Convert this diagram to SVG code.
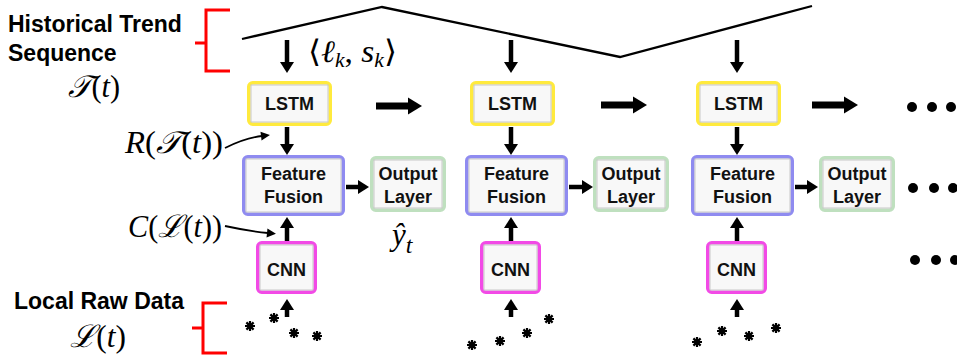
<svg xmlns="http://www.w3.org/2000/svg" width="957" height="360" viewBox="0 0 957 360">
<defs>
<style>
.lbl{font-family:"Liberation Sans",Arial,sans-serif;font-weight:bold;font-size:23px;fill:#000}
.bt{font-family:"Liberation Sans",Arial,sans-serif;font-weight:bold;font-size:18px;fill:#111;text-anchor:middle}
.m{font-family:"Liberation Serif","DejaVu Serif",serif;font-style:italic;font-size:31px;fill:#000}
.r{font-style:normal}
.box{fill:#f8f8f8;stroke-width:3.5}
.inner{fill:none;stroke:#c8c8c8;stroke-width:1}
.lstm{stroke:#ffea3d}
.ff{stroke:#8f8bf0}
.out{stroke:#bfe0bf}
.cnn{stroke:#f24ae6}
.ar{stroke:#000;stroke-width:4.5;fill:none;marker-end:url(#ah)}
.arb{stroke:#000;stroke-width:7;fill:none;marker-end:url(#ahb)}
.arc{stroke:#000;stroke-width:1.8;fill:none;marker-end:url(#ahs)}
.br{stroke:#ff0000;stroke-width:3;fill:none}
.dot{fill:#000}
</style>
<marker id="ah" markerUnits="userSpaceOnUse" markerWidth="12" markerHeight="14" refX="0" refY="7" orient="auto" overflow="visible">
<path d="M0,0 L11,7 L0,14 z" fill="#000"/>
</marker>
<marker id="ahb" markerUnits="userSpaceOnUse" markerWidth="15" markerHeight="17" refX="0" refY="8.5" orient="auto" overflow="visible">
<path d="M0,0 L14,8.5 L0,17 z" fill="#000"/>
</marker>
<marker id="ahs" markerUnits="userSpaceOnUse" markerWidth="10" markerHeight="9" refX="1" refY="4.5" orient="auto" overflow="visible">
<path d="M0,0 L9,4.5 L0,9 z" fill="#000"/>
</marker>
<g id="star">
<path d="M-5,0H5M0,-5V5M-3.6,-3.6L3.6,3.6M-3.6,3.6L3.6,-3.6" stroke="#000" stroke-width="2.2"/>
<circle r="2.6" fill="#000"/>
</g>
</defs>
<rect width="957" height="360" fill="#fff"/>

<!-- trend line and brackets -->
<g id="trend">
<polyline points="242,39 382,7 620,57 812,6" fill="none" stroke="#000" stroke-width="2.3"/>
<path class="br" d="M230,10H206V71H230M195,43H206"/>
<path class="br" d="M227,303H203V353H227M192,328H203"/>
</g>

<!-- labels -->
<g id="labels">
<text class="lbl" x="8" y="32">Historical Trend</text>
<text class="lbl" x="8" y="61">Sequence</text>
<text class="lbl" x="14" y="309">Local Raw Data</text>
<text class="m" x="68" y="97" textLength="52" lengthAdjust="spacingAndGlyphs">𝒯<tspan class="r">(</tspan>t<tspan class="r">)</tspan></text>
<text class="m" x="125" y="153" textLength="98" lengthAdjust="spacingAndGlyphs">R<tspan class="r">(</tspan>𝒯<tspan class="r">(</tspan>t<tspan class="r">))</tspan></text>
<text class="m" x="128" y="237" textLength="94" lengthAdjust="spacingAndGlyphs">C<tspan class="r">(</tspan>ℒ<tspan class="r">(</tspan>t<tspan class="r">))</tspan></text>
<text class="m" x="70" y="347" textLength="56" lengthAdjust="spacingAndGlyphs">ℒ<tspan class="r">(</tspan>t<tspan class="r">)</tspan></text>
<text class="m" x="308" y="62" font-size="29" textLength="89" lengthAdjust="spacingAndGlyphs"><tspan class="r">⟨</tspan>ℓ<tspan font-size="20" dy="5">k</tspan><tspan class="r" dy="-5">, </tspan>s<tspan font-size="20" dy="5">k</tspan><tspan class="r" dy="-5">⟩</tspan></text>
<text class="m" x="392" y="245" font-size="37">ŷ<tspan font-size="24" dy="8">t</tspan></text>
</g>

<!-- block 1 -->
<g id="lstm1"><rect class="box lstm" x="248.75" y="82.75" width="81.5" height="41.5" rx="4"/><rect class="inner" x="251" y="85" width="77" height="37"/><text class="bt" x="289.5" y="110">LSTM</text></g>
<g id="ff1"><rect class="box ff" x="243.75" y="156.75" width="99.5" height="57.5" rx="4"/><rect class="inner" x="246" y="159" width="95" height="53"/><text class="bt" x="293.5" y="179.5">Feature</text><text class="bt" x="293.5" y="203">Fusion</text></g>
<g id="out1"><rect class="box out" x="371.75" y="157.75" width="72.5" height="52.5" rx="4"/><rect class="inner" x="374" y="160" width="68" height="48"/><text class="bt" x="408" y="180">Output</text><text class="bt" x="408" y="203">Layer</text></g>
<g id="cnn1"><rect class="box cnn" x="257.75" y="242.75" width="57.5" height="49.5" rx="4"/><rect class="inner" x="260" y="245" width="53" height="45"/><text class="bt" x="286.5" y="276">CNN</text></g>

<!-- block 2 -->
<g id="lstm2"><rect class="box lstm" x="471.75" y="82.75" width="81.5" height="41.5" rx="4"/><rect class="inner" x="474" y="85" width="77" height="37"/><text class="bt" x="512.5" y="110">LSTM</text></g>
<g id="ff2"><rect class="box ff" x="466.75" y="156.75" width="99.5" height="57.5" rx="4"/><rect class="inner" x="469" y="159" width="95" height="53"/><text class="bt" x="516.5" y="179.5">Feature</text><text class="bt" x="516.5" y="203">Fusion</text></g>
<g id="out2"><rect class="box out" x="594.75" y="157.75" width="72.5" height="52.5" rx="4"/><rect class="inner" x="597" y="160" width="68" height="48"/><text class="bt" x="631" y="180">Output</text><text class="bt" x="631" y="203">Layer</text></g>
<g id="cnn2"><rect class="box cnn" x="481.75" y="242.75" width="57.5" height="49.5" rx="4"/><rect class="inner" x="484" y="245" width="53" height="45"/><text class="bt" x="510.5" y="276">CNN</text></g>

<!-- block 3 -->
<g id="lstm3"><rect class="box lstm" x="697.75" y="82.75" width="81.5" height="41.5" rx="4"/><rect class="inner" x="700" y="85" width="77" height="37"/><text class="bt" x="738.5" y="110">LSTM</text></g>
<g id="ff3"><rect class="box ff" x="692.75" y="156.75" width="99.5" height="57.5" rx="4"/><rect class="inner" x="695" y="159" width="95" height="53"/><text class="bt" x="742.5" y="179.5">Feature</text><text class="bt" x="742.5" y="203">Fusion</text></g>
<g id="out3"><rect class="box out" x="820.75" y="157.75" width="72.5" height="52.5" rx="4"/><rect class="inner" x="823" y="160" width="68" height="48"/><text class="bt" x="857" y="180">Output</text><text class="bt" x="857" y="203">Layer</text></g>
<g id="cnn3"><rect class="box cnn" x="707.75" y="242.75" width="57.5" height="49.5" rx="4"/><rect class="inner" x="710" y="245" width="53" height="45"/><text class="bt" x="736.5" y="276">CNN</text></g>

<!-- data points -->
<g id="points">
<use href="#star" x="250" y="326"/><use href="#star" x="274" y="318"/><use href="#star" x="294" y="333"/><use href="#star" x="317" y="336"/>
<use href="#star" x="472" y="345"/><use href="#star" x="500" y="341"/><use href="#star" x="527" y="333"/><use href="#star" x="549" y="319"/>
<use href="#star" x="697" y="342"/><use href="#star" x="722" y="331"/><use href="#star" x="749" y="336"/><use href="#star" x="776" y="328"/>
</g>

<!-- ellipses -->
<g id="dots">
<circle class="dot" cx="912" cy="107" r="5"/><circle class="dot" cx="932" cy="107" r="5"/><circle class="dot" cx="951" cy="107" r="5"/>
<circle class="dot" cx="913" cy="188" r="5"/><circle class="dot" cx="934" cy="188" r="5"/><circle class="dot" cx="953" cy="188" r="5"/>
<circle class="dot" cx="915" cy="260" r="5"/><circle class="dot" cx="936" cy="260" r="5"/><circle class="dot" cx="955" cy="260" r="5"/>
</g>

<!-- connectors -->
<g id="connectors">
<path class="ar" d="M287,40V62"/><path class="ar" d="M511,40V62"/><path class="ar" d="M737,40V62"/>
<path class="ar" d="M287,127V144"/><path class="ar" d="M511,127V144"/><path class="ar" d="M737,127V144"/>
<path class="ar" d="M287,241V228"/><path class="ar" d="M511,241V228"/><path class="ar" d="M737,241V228"/>
<path class="ar" d="M287,317V310"/><path class="ar" d="M511,317V310"/><path class="ar" d="M737,317V310"/>
<path class="ar" d="M346,187H358"/><path class="ar" d="M569,187H582"/><path class="ar" d="M795,187H807"/>
<path class="arb" d="M376,106H408"/><path class="arb" d="M601,105H633"/><path class="arb" d="M812,105H844"/>
<path class="arc" d="M225,148Q245,138 262,136"/>
<path class="arc" d="M225,226Q248,231 268,233"/>
</g>
</svg>
